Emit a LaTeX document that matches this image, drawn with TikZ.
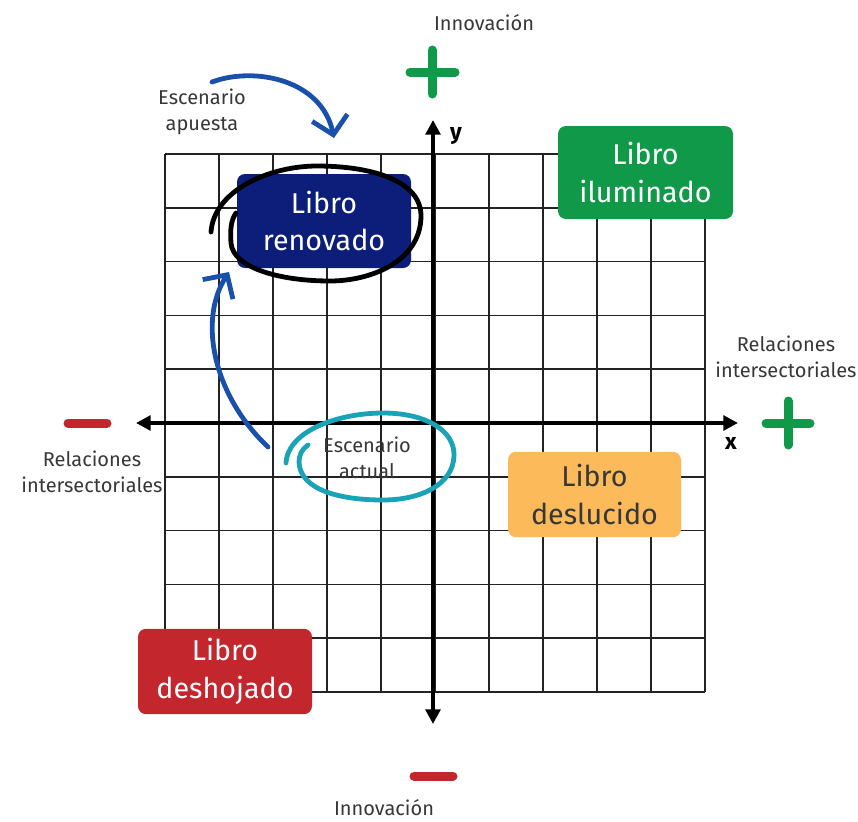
\documentclass[tikz,border=0pt]{standalone}
\usepackage{fontspec}
\setmainfont{Fira Sans}
\usetikzlibrary{arrows.meta}
\definecolor{verdelibro}{RGB}{17,153,74}
\definecolor{naranjalibro}{RGB}{252,186,90}
\definecolor{rojolibro}{RGB}{196,38,46}
\definecolor{azullibro}{RGB}{12,30,122}
\definecolor{azulflecha}{RGB}{25,80,172}
\definecolor{turquesa}{RGB}{26,162,182}
\definecolor{textogris}{RGB}{55,55,55}
\tikzset{
  libro/.style={rounded corners=6pt, align=center, inner sep=0pt,
    font=\fontsize{21.5}{28}\selectfont, text=white,
    minimum width=130.5pt, minimum height=64pt},
  etiqueta/.style={align=center, inner sep=0.75pt, text=textogris,
    font=\fontsize{15}{19.5}\selectfont},
  eje/.style={line width=3pt, {Triangle[length=11pt,width=11pt]}-{Triangle[length=11pt,width=11pt]}},
  signo/.style={line width=6.75pt, line cap=round},
  trazo/.style={line width=3.6pt, line cap=round},
  flechaazul/.style={azulflecha, line width=3.6pt, line cap=round,
    -{Straight Barb[length=13pt,width=27pt,line width=3.6pt]}}
}

\begin{document}
\begin{tikzpicture}[x=0.75pt,y=0.75pt,yscale=-1,xscale=1]
\useasboundingbox (0,0) rectangle (858,822);

%Grid
\foreach \i in {0,...,10}{
  \draw [color={rgb, 255:red, 35; green, 35; blue, 35 }, line width=1.2pt] (165+54*\i,154) -- (165+54*\i,692) ;
  \draw [color={rgb, 255:red, 35; green, 35; blue, 35 }, line width=1.2pt] (165,154+53.8*\i) -- (705,154+53.8*\i) ;
}

%Axes
\coordinate (xizq) at (136,423);
\coordinate (xder) at (738,423);
\coordinate (yarr) at (433,120);
\coordinate (yaba) at (433,724);
\draw [eje] (xizq) -- (xder) ;
\draw [eje] (yaba) -- (yarr) ;

% Text Node
\node (ejex) at (731,443) {\fontsize{17}{17}\selectfont\bfseries x};
% Text Node
\node (ejey) at (456,136) {\fontsize{17}{17}\selectfont\bfseries y};

%Signs
\draw [signo, verdelibro] (410,72) -- (455,72) (432,50) -- (432,94) ;
\draw [signo, verdelibro] (766,423) -- (810,423) (788,401) -- (788,445) ;
\draw [signo, rojolibro] (68,423) -- (107,423) ;
\draw [signo, rojolibro] (414,776) -- (453,776) ;

% Text Node
\node [etiqueta] (innovarr) at (484,23) {Innovación};
% Text Node
\node [etiqueta] (innovaba) at (384,808) {Innovación};
% Text Node
\node [etiqueta] (relizq) at (92,472) {Relaciones\\intersectoriales};
% Text Node
\node [etiqueta] (relder) at (786,357) {Relaciones\\intersectoriales};
% Text Node
\node [etiqueta] (apuesta) at (202,112) {Escenario\\apuesta};

%Boxes
\node [libro, fill=verdelibro, minimum height=69.75pt, minimum width=131.25pt] (iluminado) at (645.5,172.5) {Libro\\iluminado};
\node [libro, fill=naranjalibro, text=textogris, minimum width=129.75pt] (deslucido) at (594.5,494.5) {Libro\\deslucido};
\node [libro, fill=rojolibro] (deshojado) at (225,671.5) {Libro\\deshojado};
\node [libro, fill=azullibro, minimum height=70.5pt] (renovado) at (324,221) {Libro\\renovado};

%Loop around renovado
\draw [trazo, black] (211,232) .. controls (214,190) and (270,166) .. (317,166) .. controls (370,166) and (422,180) .. (421,217) .. controls (420,262) and (370,281) .. (330,281) .. controls (280,281) and (233,268) .. (231,243) .. controls (230,230) and (231,220) .. (236,213) ;

% Text Node
\node [etiqueta] (actual) at (367,458) {Escenario\\actual};

%Loop around actual
\draw [trazo, turquesa] (286,463) .. controls (288,430) and (340,413) .. (383,413) .. controls (425,413) and (455,430) .. (454,456) .. controls (453,485) and (420,500) .. (383,500) .. controls (340,500) and (300,490) .. (299,462) .. controls (299,455) and (302,449) .. (308,445) ;

%Arrows
\coordinate (inicioapuesta) at (212,82);
\coordinate (inicioactual) at (268,447);
\draw [flechaazul] (inicioapuesta) .. controls (255,66) and (322,80) .. (334,138) ;
\draw [flechaazul] (inicioactual) .. controls (213,395) and (198,320) .. (229,272) ;

\end{tikzpicture}
\end{document}
